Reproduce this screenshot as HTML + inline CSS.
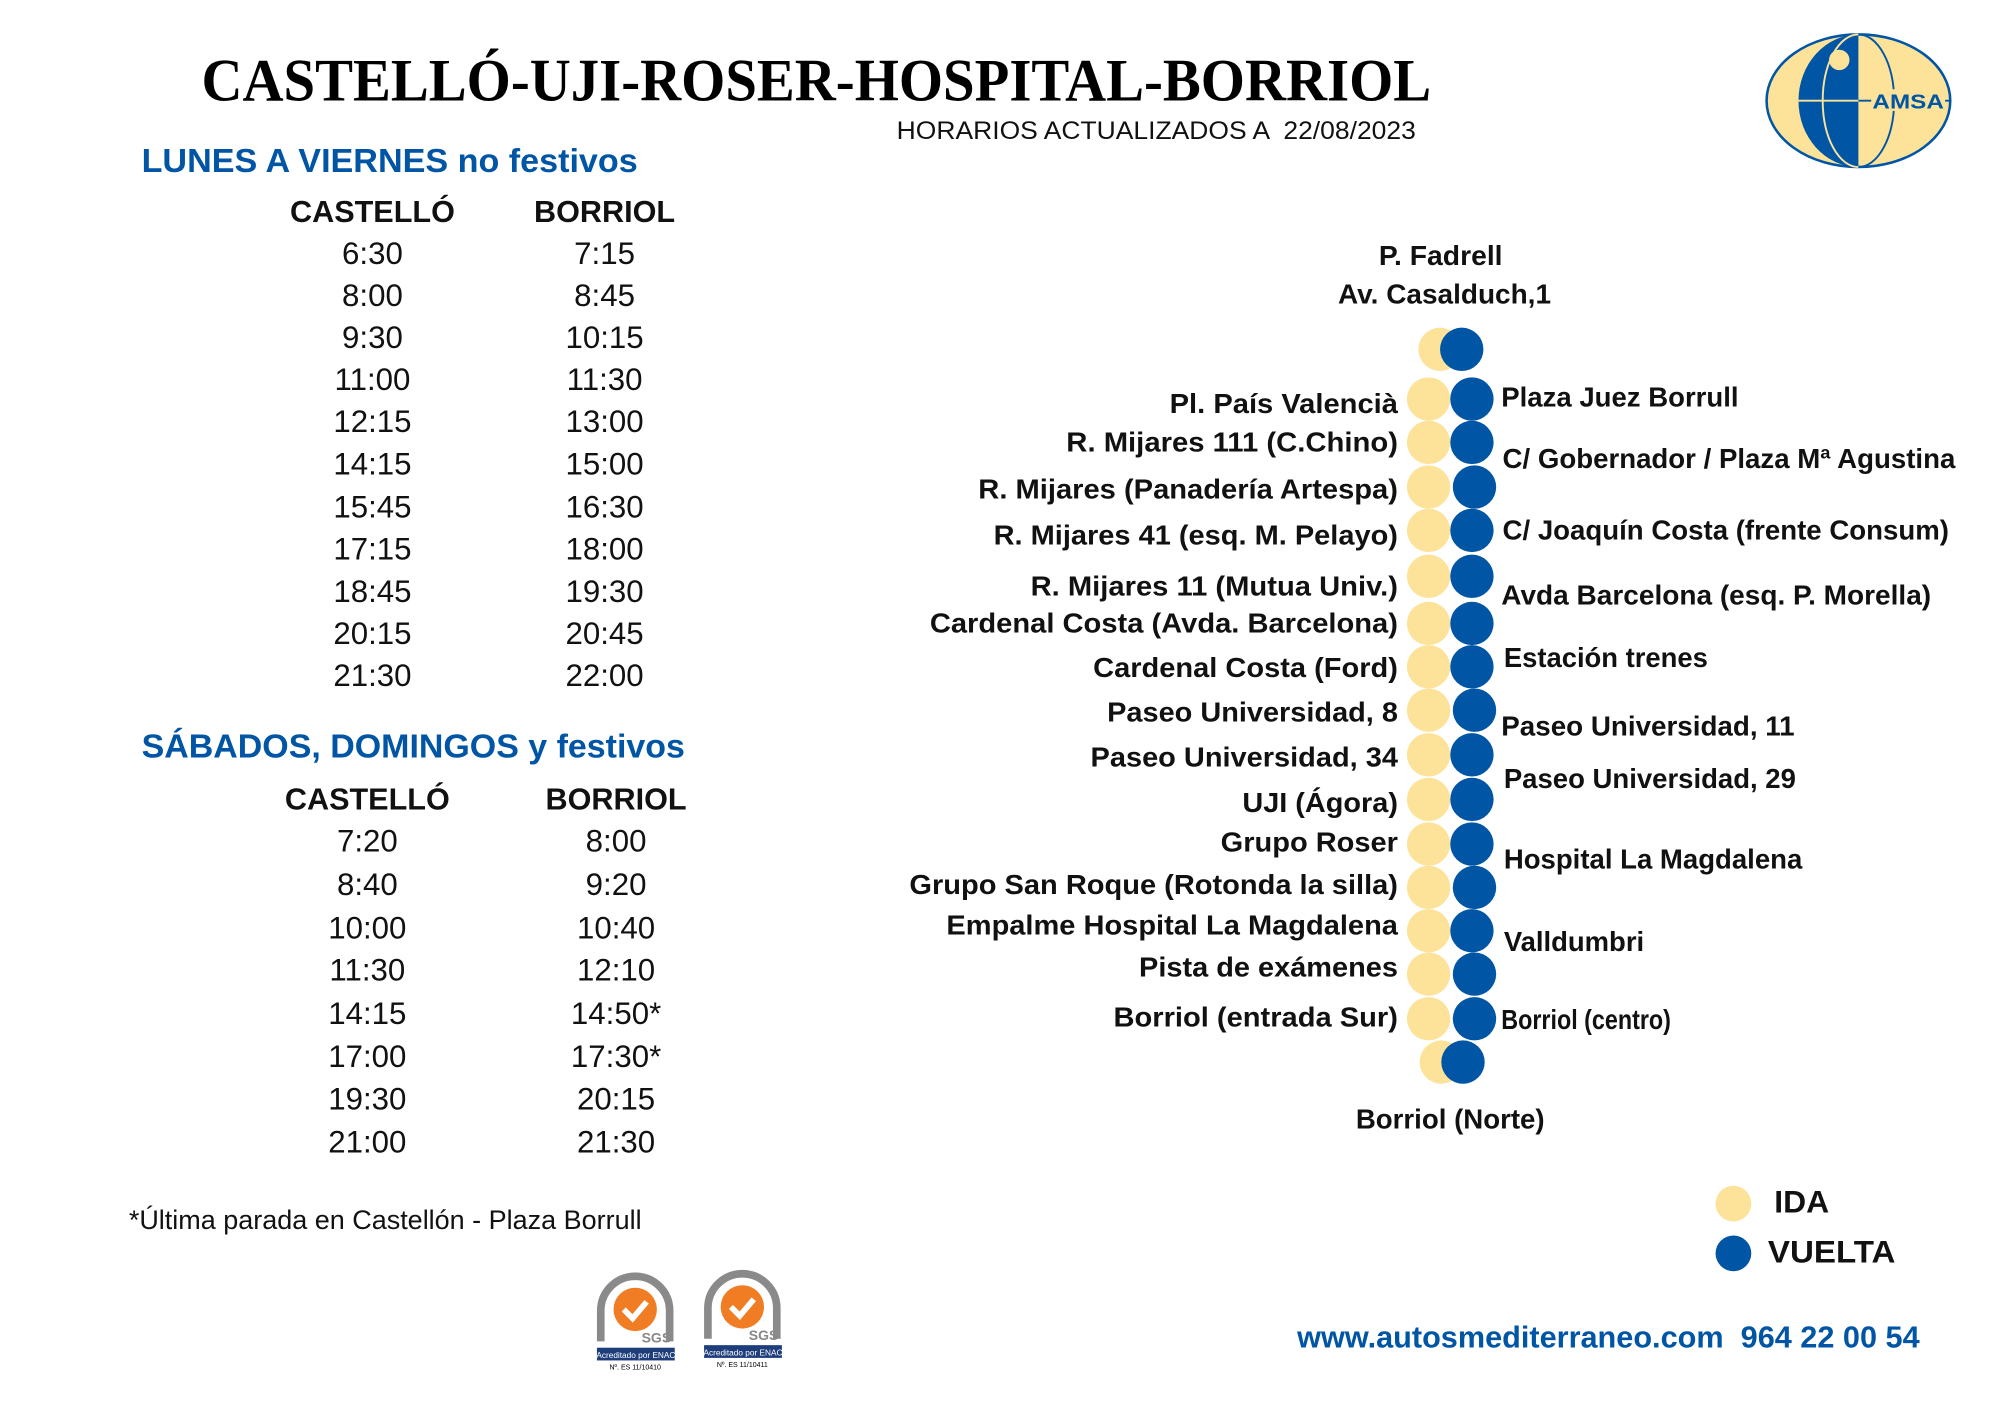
<!DOCTYPE html>
<html><head><meta charset="utf-8"><style>html,body{margin:0;padding:0;background:#fff}svg{display:block}</style></head>
<body>
<svg width="2000" height="1414" viewBox="0 0 1568 1109" preserveAspectRatio="none" xmlns="http://www.w3.org/2000/svg" font-family="Liberation Sans, sans-serif">
<rect width="1568" height="1109" fill="#fff"/>
<text x="158" y="79" font-family="Liberation Serif, serif" font-weight="bold" font-size="47" textLength="964" lengthAdjust="spacingAndGlyphs">CASTELLÓ-UJI-ROSER-HOSPITAL-BORRIOL</text>
<text x="703" y="109" font-size="19.5" fill="#111" textLength="407" lengthAdjust="spacingAndGlyphs" xml:space="preserve">HORARIOS ACTUALIZADOS A  22/08/2023</text>
<!-- logo -->
<g>
<ellipse cx="1457" cy="79" rx="72" ry="52" fill="#fde39a" stroke="#0055a5" stroke-width="2"/>
<path d="M1457 27 A47 52 0 0 0 1457 131 Z" fill="#0055a5"/>
<path d="M1457 27 A28 52 0 0 0 1457 131" fill="none" stroke="#fde39a" stroke-width="1.5"/>
<path d="M1457 27 A28 52 0 0 1 1457 131" fill="none" stroke="#0055a5" stroke-width="1.5"/>
<line x1="1405" y1="79" x2="1528" y2="79" stroke="#fde39a" stroke-width="1.5"/>
<line x1="1457" y1="79" x2="1528" y2="79" stroke="#0055a5" stroke-width="1.5"/>
<circle cx="1442" cy="47" r="8" fill="#fde39a"/>
<rect x="1467" y="70" width="58" height="17" fill="#fde39a"/>
<text x="1468" y="85" font-size="16" font-weight="bold" fill="#0055a5" textLength="56" lengthAdjust="spacingAndGlyphs">AMSA</text>
</g>
<g font-weight="bold" fill="#0055a5" font-size="26.5">
<text x="111" y="135" textLength="389" lengthAdjust="spacingAndGlyphs">LUNES A VIERNES no festivos</text>
<text x="111" y="594" textLength="426" lengthAdjust="spacingAndGlyphs">SÁBADOS, DOMINGOS y festivos</text>
</g>
<g font-size="24.5" text-anchor="middle" fill="#111">
<text x="292" y="174" font-weight="bold" font-size="24">CASTELLÓ</text><text x="474" y="174" font-weight="bold" font-size="24">BORRIOL</text>
<text x="292" y="207">6:30</text><text x="474" y="207">7:15</text>
<text x="292" y="240">8:00</text><text x="474" y="240">8:45</text>
<text x="292" y="273">9:30</text><text x="474" y="273">10:15</text>
<text x="292" y="306">11:00</text><text x="474" y="306">11:30</text>
<text x="292" y="339">12:15</text><text x="474" y="339">13:00</text>
<text x="292" y="372">14:15</text><text x="474" y="372">15:00</text>
<text x="292" y="406">15:45</text><text x="474" y="406">16:30</text>
<text x="292" y="439">17:15</text><text x="474" y="439">18:00</text>
<text x="292" y="472">18:45</text><text x="474" y="472">19:30</text>
<text x="292" y="505">20:15</text><text x="474" y="505">20:45</text>
<text x="292" y="538">21:30</text><text x="474" y="538">22:00</text>
<text x="288" y="635" font-weight="bold" font-size="24">CASTELLÓ</text><text x="483" y="635" font-weight="bold" font-size="24">BORRIOL</text>
<text x="288" y="668">7:20</text><text x="483" y="668">8:00</text>
<text x="288" y="702">8:40</text><text x="483" y="702">9:20</text>
<text x="288" y="736">10:00</text><text x="483" y="736">10:40</text>
<text x="288" y="769">11:30</text><text x="483" y="769">12:10</text>
<text x="288" y="803">14:15</text><text x="483" y="803">14:50*</text>
<text x="288" y="837">17:00</text><text x="483" y="837">17:30*</text>
<text x="288" y="870">19:30</text><text x="483" y="870">20:15</text>
<text x="288" y="904">21:00</text><text x="483" y="904">21:30</text>
</g>
<text x="101" y="964" font-size="21" fill="#111" textLength="402" lengthAdjust="spacingAndGlyphs">*Última parada en Castellón - Plaza Borrull</text>
<!-- badges -->
<g>
<path d="M471 1052 L471 1028 A27 27 0 0 1 525 1028 L525 1052" fill="none" stroke="#8a8a8a" stroke-width="6"/>
<circle cx="498" cy="1027" r="17" fill="#f07c23"/>
<path d="M489 1027 l7 7 l11 -13" fill="none" stroke="#fff" stroke-width="4.5"/>
<text x="503" y="1053" font-size="11" font-weight="bold" fill="#888">SGS</text>
<rect x="468" y="1057" width="61" height="10" fill="#1e3d7b"/>
<text x="498.5" y="1065" font-size="6.5" fill="#fff" text-anchor="middle">Acreditado por ENAC</text>
<text x="498" y="1074" font-size="5.5" text-anchor="middle">Nº. ES 11/10410</text>
<path d="M555 1050 L555 1026 A27 27 0 0 1 609 1026 L609 1050" fill="none" stroke="#8a8a8a" stroke-width="6"/>
<circle cx="582" cy="1025" r="17" fill="#f07c23"/>
<path d="M573 1025 l7 7 l11 -13" fill="none" stroke="#fff" stroke-width="4.5"/>
<text x="587" y="1051" font-size="11" font-weight="bold" fill="#888">SGS</text>
<rect x="552" y="1055" width="61" height="10" fill="#1e3d7b"/>
<text x="582.5" y="1063" font-size="6.5" fill="#fff" text-anchor="middle">Acreditado por ENAC</text>
<text x="582" y="1072" font-size="5.5" text-anchor="middle">Nº. ES 11/10411</text>
</g>
<!-- route circles -->
<g>
<circle cx="1129" cy="274" r="17" fill="#fde39a"/><circle cx="1146" cy="274" r="17" fill="#0055a5"/>
<g fill="#fde39a">
<circle cx="1120" cy="313" r="17"/><circle cx="1120" cy="347" r="17"/><circle cx="1120" cy="382" r="17"/><circle cx="1120" cy="416" r="17"/><circle cx="1120" cy="452" r="17"/><circle cx="1120" cy="489" r="17"/><circle cx="1120" cy="523" r="17"/><circle cx="1120" cy="557" r="17"/><circle cx="1120" cy="592" r="17"/><circle cx="1120" cy="627" r="17"/><circle cx="1120" cy="662" r="17"/><circle cx="1120" cy="696" r="17"/><circle cx="1120" cy="730" r="17"/><circle cx="1120" cy="764" r="17"/><circle cx="1120" cy="799" r="17"/>
</g>
<g fill="#0055a5">
<circle cx="1154" cy="313" r="17"/><circle cx="1154" cy="347" r="17"/><circle cx="1156" cy="382" r="17"/><circle cx="1154" cy="416" r="17"/><circle cx="1154" cy="452" r="17"/><circle cx="1154" cy="489" r="17"/><circle cx="1154" cy="523" r="17"/><circle cx="1156" cy="557" r="17"/><circle cx="1154" cy="592" r="17"/><circle cx="1154" cy="627" r="17"/><circle cx="1154" cy="662" r="17"/><circle cx="1156" cy="696" r="17"/><circle cx="1154" cy="730" r="17"/><circle cx="1156" cy="764" r="17"/><circle cx="1156" cy="799" r="17"/>
</g>
<circle cx="1130" cy="833" r="17" fill="#fde39a"/><circle cx="1147" cy="833" r="17" fill="#0055a5"/>
</g>
<g font-size="21.5" font-weight="bold" fill="#111" lengthAdjust="spacingAndGlyphs">
<text x="1081" y="208" textLength="97" lengthAdjust="spacingAndGlyphs">P. Fadrell</text>
<text x="1049" y="238" textLength="167" lengthAdjust="spacingAndGlyphs">Av. Casalduch,1</text>
<text x="1063" y="885" textLength="148" lengthAdjust="spacingAndGlyphs">Borriol (Norte)</text>
<text x="917" y="324" textLength="179" lengthAdjust="spacingAndGlyphs">Pl. País Valencià</text>
<text x="836" y="354" textLength="260" lengthAdjust="spacingAndGlyphs">R. Mijares 111 (C.Chino)</text>
<text x="767" y="391" textLength="329" lengthAdjust="spacingAndGlyphs">R. Mijares (Panadería Artespa)</text>
<text x="779" y="427" textLength="317" lengthAdjust="spacingAndGlyphs">R. Mijares 41 (esq. M. Pelayo)</text>
<text x="808" y="467" textLength="288" lengthAdjust="spacingAndGlyphs">R. Mijares 11 (Mutua Univ.)</text>
<text x="729" y="496" textLength="367" lengthAdjust="spacingAndGlyphs">Cardenal Costa (Avda. Barcelona)</text>
<text x="857" y="531" textLength="239" lengthAdjust="spacingAndGlyphs">Cardenal Costa (Ford)</text>
<text x="868" y="566" textLength="228" lengthAdjust="spacingAndGlyphs">Paseo Universidad, 8</text>
<text x="855" y="601" textLength="241" lengthAdjust="spacingAndGlyphs">Paseo Universidad, 34</text>
<text x="974" y="637" textLength="122" lengthAdjust="spacingAndGlyphs">UJI (Ágora)</text>
<text x="957" y="668" textLength="139" lengthAdjust="spacingAndGlyphs">Grupo Roser</text>
<text x="713" y="701" textLength="383" lengthAdjust="spacingAndGlyphs">Grupo San Roque (Rotonda la silla)</text>
<text x="742" y="733" textLength="354" lengthAdjust="spacingAndGlyphs">Empalme Hospital La Magdalena</text>
<text x="893" y="766" textLength="203" lengthAdjust="spacingAndGlyphs">Pista de exámenes</text>
<text x="873" y="805" textLength="223" lengthAdjust="spacingAndGlyphs">Borriol (entrada Sur)</text>
<text x="1177" y="319" textLength="186" lengthAdjust="spacingAndGlyphs">Plaza Juez Borrull</text>
<text x="1178" y="367" textLength="355" lengthAdjust="spacingAndGlyphs">C/ Gobernador / Plaza Mª Agustina</text>
<text x="1178" y="423" textLength="350" lengthAdjust="spacingAndGlyphs">C/ Joaquín Costa (frente Consum)</text>
<text x="1177" y="474" textLength="337" lengthAdjust="spacingAndGlyphs">Avda Barcelona (esq. P. Morella)</text>
<text x="1179" y="523" textLength="160" lengthAdjust="spacingAndGlyphs">Estación trenes</text>
<text x="1177" y="577" textLength="230" lengthAdjust="spacingAndGlyphs">Paseo Universidad, 11</text>
<text x="1179" y="618" textLength="229" lengthAdjust="spacingAndGlyphs">Paseo Universidad, 29</text>
<text x="1179" y="681" textLength="234" lengthAdjust="spacingAndGlyphs">Hospital La Magdalena</text>
<text x="1179" y="746" textLength="110" lengthAdjust="spacingAndGlyphs">Valldumbri</text>
<text x="1177" y="807" textLength="133" lengthAdjust="spacingAndGlyphs">Borriol (centro)</text>
</g>
<circle cx="1359" cy="944" r="14" fill="#fde39a"/>
<circle cx="1359" cy="983" r="14" fill="#0055a5"/>
<text x="1391" y="951" font-size="25" font-weight="bold" fill="#111">IDA</text>
<text x="1386" y="990" font-size="25" font-weight="bold" fill="#111" textLength="100" lengthAdjust="spacingAndGlyphs">VUELTA</text>
<text x="1017" y="1057" font-size="24" font-weight="bold" fill="#0055a5" xml:space="preserve" textLength="488" lengthAdjust="spacingAndGlyphs">www.autosmediterraneo.com  964 22 00 54</text>
</svg>
</body></html>
